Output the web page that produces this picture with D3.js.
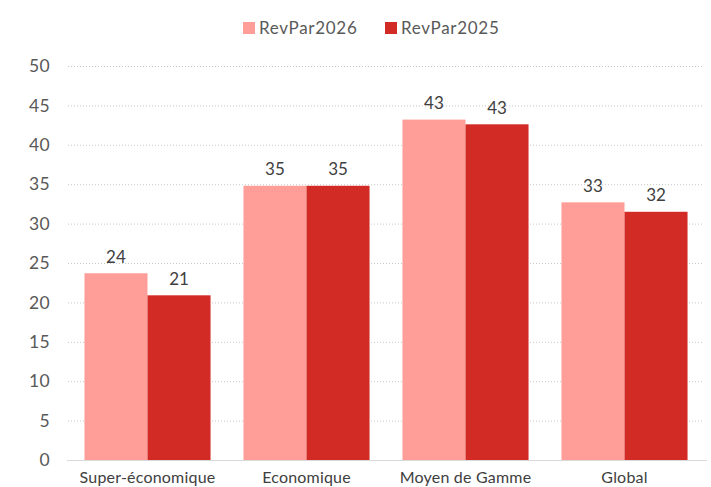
<!DOCTYPE html>
<html>
<head>
<meta charset="utf-8">
<script src="https://cdn.jsdelivr.net/npm/d3@7"></script>
<style>
  html, body { margin: 0; padding: 0; background: #ffffff; }
  svg { display: block; font-family: Lato, "Open Sans", sans-serif; }
</style>
</head>
<body>
<svg id="chart" width="711" height="487"></svg>
<script>
// RevPar by hotel segment, 2026 vs 2025
const categories = ["Super-économique", "Economique", "Moyen de Gamme", "Global"];
const seriesNames = ["RevPar2026", "RevPar2025"];
const revpar2026 = [23.7, 34.8, 43.2, 32.7];
const revpar2025 = [20.9, 34.8, 42.6, 31.5];
const yTicks = [0, 5, 10, 15, 20, 25, 30, 35, 40, 45, 50];
const colors = ["#ff9e99", "#d22b26"];

const seriesValues = [revpar2026, revpar2025];
const rows = categories.map((c, i) => ({
  category: c,
  values: seriesNames.map((s, k) => ({ series: s, value: seriesValues[k][i] }))
}));

const svg = d3.select("#chart");
const margin = { left: 68, right: 7, top: 66, bottom: 27 };
const W = 711, H = 487;

const x = d3.scaleBand()
  .domain(categories)
  .range([margin.left, W - margin.right])
  .paddingInner(0.207)
  .paddingOuter(0.1035);

const x1 = d3.scaleBand()
  .domain(seriesNames)
  .range([0, x.bandwidth()]);

const y = d3.scaleLinear()
  .domain([0, 50])
  .range([H - margin.bottom, margin.top]);

const color = d3.scaleOrdinal().domain(seriesNames).range(colors);

// Dotted horizontal gridlines
svg.append("g")
  .selectAll("line")
  .data(yTicks.filter(t => t > 0))
  .join("line")
  .attr("x1", margin.left)
  .attr("x2", W - margin.right)
  .attr("y1", d => y(d) + 0.5)
  .attr("y2", d => y(d) + 0.5)
  .attr("stroke", "#c8c8c8")
  .attr("stroke-width", 1)
  .attr("stroke-dasharray", "1,2");

// Y axis labels
const yAxis = d3.axisLeft(y).tickValues(yTicks).tickSize(0).tickPadding(0);
const gy = svg.append("g")
  .attr("transform", `translate(${50},0)`)
  .call(yAxis);
gy.select(".domain").remove();
gy.selectAll("text")
  .attr("fill", "#595959")
  .attr("font-size", 17.5)
  .attr("letter-spacing", 0.3)
  .attr("font-family", "Lato, sans-serif");

// Bars
const groups = svg.append("g")
  .selectAll("g")
  .data(rows)
  .join("g")
  .attr("transform", d => `translate(${x(d.category)},0)`);

groups.selectAll("rect")
  .data(d => d.values)
  .join("rect")
  .attr("x", d => x1(d.series))
  .attr("width", x1.bandwidth())
  .attr("y", d => y(d.value))
  .attr("height", d => y(0) - y(d.value))
  .attr("fill", d => color(d.series));

// Value labels
groups.selectAll("text")
  .data(d => d.values)
  .join("text")
  .attr("x", d => x1(d.series) + x1.bandwidth() / 2)
  .attr("y", d => y(d.value) - 10.5)
  .attr("text-anchor", "middle")
  .attr("fill", "#404040")
  .attr("font-size", 17)
  .text(d => d3.format(".0f")(d.value));

// Baseline
svg.append("line")
  .attr("x1", margin.left - 1)
  .attr("x2", W - 4)
  .attr("y1", y(0) + 0.5)
  .attr("y2", y(0) + 0.5)
  .attr("stroke", "#d9d9d9")
  .attr("stroke-width", 1);

// X axis labels
const xAxis = d3.axisBottom(x).tickSize(0).tickPadding(0);
const gx = svg.append("g")
  .attr("transform", `translate(0,${y(0) + 12})`)
  .call(xAxis);
gx.select(".domain").remove();
gx.selectAll("text")
  .attr("fill", "#404040")
  .attr("font-size", 16)
  .attr("letter-spacing", 0.2)
  .attr("font-family", "Lato, sans-serif");

// Legend
const legendItems = [
  { name: seriesNames[0], x: 243 },
  { name: seriesNames[1], x: 385 }
];
const lg = svg.append("g")
  .selectAll("g")
  .data(legendItems)
  .join("g")
  .attr("transform", d => `translate(${d.x},22)`);
lg.append("rect")
  .attr("width", 12)
  .attr("height", 12)
  .attr("fill", d => color(d.name));
lg.append("text")
  .attr("x", 16)
  .attr("y", 12)
  .attr("fill", "#595959")
  .attr("font-size", 17)
  .attr("letter-spacing", 0.7)
  .text(d => d.name);
</script>
</body>
</html>
